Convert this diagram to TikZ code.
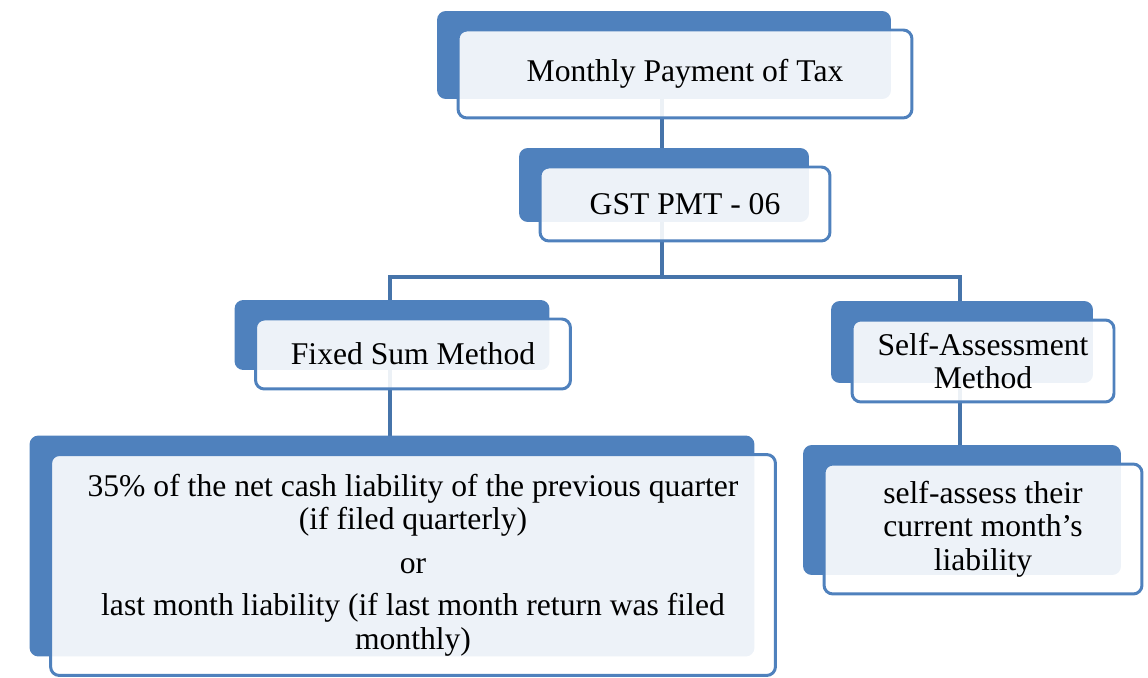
\documentclass[tikz,border=0pt]{standalone}
\usepackage{fontspec}
\setmainfont{Liberation Serif}
\usetikzlibrary{shadows,backgrounds}
\definecolor{smartblue}{RGB}{79,129,189}
\definecolor{linkblue}{RGB}{70,116,170}

\begin{document}
\begin{tikzpicture}[
    x=0.02cm, y=-0.02cm,
    item/.style={rectangle,rounded corners=5pt,draw=smartblue,line width=1.7pt,
      fill=white,fill opacity=0.9,text opacity=1,align=center,
      font=\fontsize{18}{19}\selectfont,
      general shadow={fill=smartblue,fill opacity=1,
        shadow xshift=-0.42cm,shadow yshift=0.38cm}},
    link/.style={draw=linkblue,line width=2.8pt}
  ]
    \useasboundingbox (0,0) rectangle (1148,678);

    \node[item,minimum width=9.08cm,minimum height=1.76cm] (tax) at (685,74) {Monthly Payment of Tax};
    \node[item,minimum width=5.8cm,minimum height=1.48cm] (pmt) at (685,204) {GST PMT - 06};
    \node[item,minimum width=6.3cm,minimum height=1.4cm] (fixed) at (413,354) {Fixed Sum Method};
    \node[item,minimum width=5.24cm,minimum height=1.64cm] (self) at (983,361) {Self-Assessment\\Method};
    \node[item,minimum width=14.5cm,minimum height=4.42cm] (fixedtxt) at (413,565)
      {35\% of the net cash liability of the previous quarter\\(if filed quarterly)\\[6pt]
       or\\[5pt]
       last month liability (if last month return was filed\\monthly)};
    \node[item,minimum width=6.36cm,minimum height=2.6cm] (selftxt) at (983,529)
      {self-assess their\\current month’s\\liability};

    % connectors behind the boxes
    \begin{scope}[on background layer]
      \draw[link] ([xshift=-0.46cm]tax.center) -- ([xshift=-0.46cm]pmt.center);
      \draw[link] ([xshift=-0.46cm]pmt.center) -- ++(0,73) coordinate (split);
      \draw[link] (split) -| ([xshift=-0.46cm]fixed.center);
      \draw[link] (split) -| ([xshift=-0.46cm]self.center);
      \draw[link] ([xshift=-0.46cm]fixed.center) -- ([xshift=-0.46cm]fixed.center |- fixedtxt.center);
      \draw[link] ([xshift=-0.46cm]self.center) -- ([xshift=-0.46cm]self.center |- selftxt.center);
    \end{scope}
  \end{tikzpicture}
\end{document}
